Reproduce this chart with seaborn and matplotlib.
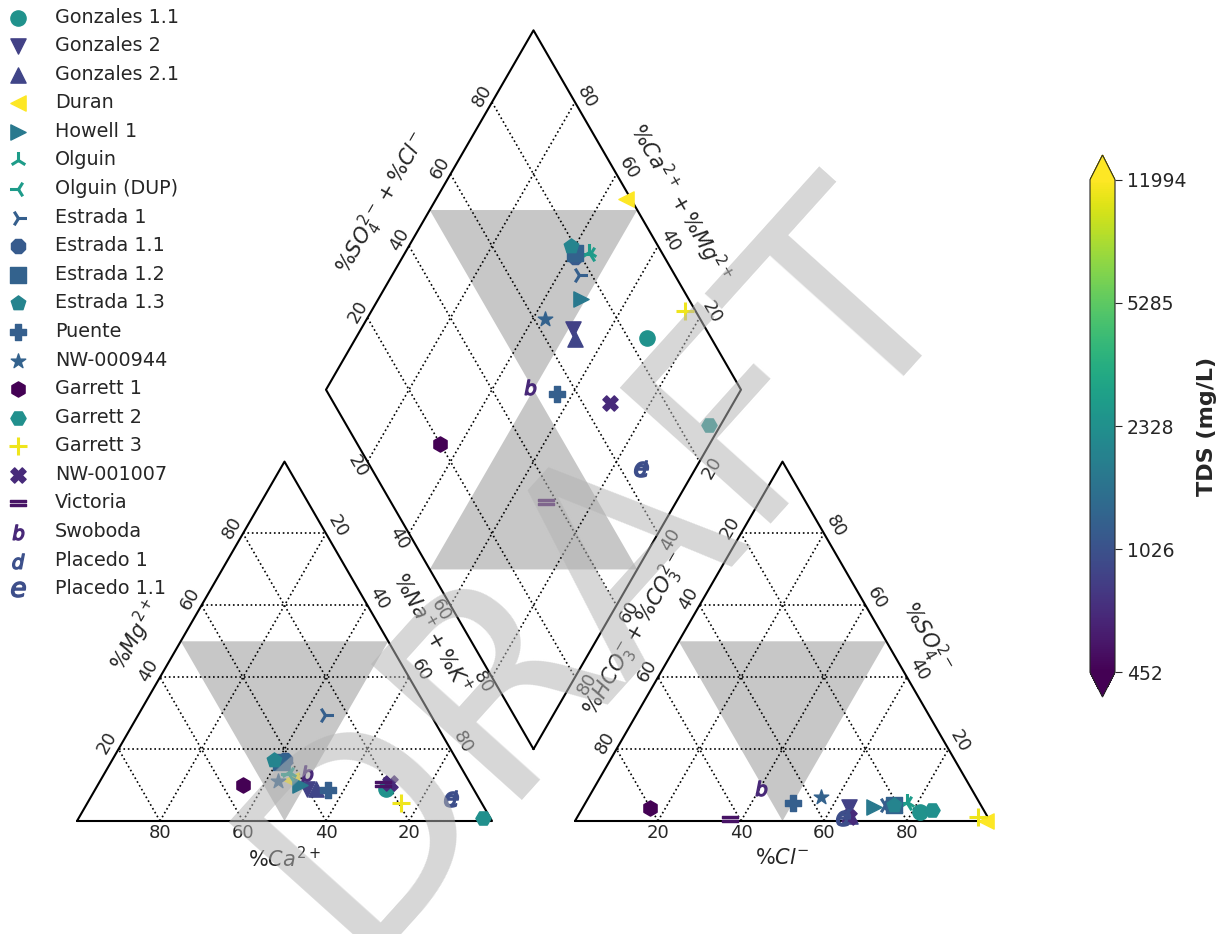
import numpy as np
import matplotlib
matplotlib.use("Agg")
import matplotlib.pyplot as plt
from matplotlib.colors import LogNorm
from matplotlib.cm import ScalarMappable
from matplotlib.patches import Polygon
from matplotlib.ticker import NullLocator
import seaborn as sns

sns.set_style("white")
plt.rcParams["font.family"] = ["DejaVu Sans"]

# ---- sample data (meq %) ----
samples = ["Gonzales 1.1", "Gonzales 2", "Gonzales 2.1", "Duran", "Howell 1",
           "Olguin", "Olguin (DUP)", "Estrada 1", "Estrada 1.1", "Estrada 1.2",
           "Estrada 1.3", "Puente", "NW-000944", "Garrett 1", "Garrett 2",
           "Garrett 3", "NW-001007", "Victoria", "Swoboda", "Placedo 1", "Placedo 1.1"]
markers = ["o", "v", "^", "<", ">", "2", "3", "4", "8", "s", "p", "P", "*",
           "h", "H", "+", "X", "$=$", "$b$", "$d$", "$e$"]
tds = [2400, 850, 880, 11994, 1700, 2750, 2700, 1200, 1150, 1250, 1976,
       1200, 1250, 452, 2328, 11000, 670, 530, 650, 1000, 980]
ca = [21.0, 40.0, 38.0, 42.8, 41.2, 42.2, 42.2, 25.5, 41.5, 42.5, 44.0,
      35.2, 45.9, 55.1, 1.8, 19.4, 19.2, 21.0, 37.9, 6.8, 6.8]
mg = [9.0, 9.0, 9.0, 11.4, 10.0, 13.6, 13.2, 29.5, 17.0, 16.5, 17.0,
      8.6, 11.1, 10.0, 0.9, 5.0, 10.6, 10.3, 13.4, 6.4, 6.2]
nak = [70.0, 51.0, 53.0, 45.8, 48.8, 44.2, 44.6, 45.0, 41.5, 41.0, 39.0,
       56.2, 43.0, 34.9, 97.3, 75.6, 70.2, 68.7, 48.7, 86.8, 87.0]
hco3 = [15.5, 32.0, 33.0, 1.0, 26.0, 17.4, 17.5, 23.0, 21.5, 21.0, 21.0,
        44.9, 37.4, 80.1, 12.5, 2.5, 33.5, 62.5, 50.6, 35.0, 35.0]
cl = [82.0, 64.0, 65.5, 99.0, 70.0, 77.2, 77.5, 72.5, 74.0, 74.5, 74.5,
      50.0, 55.8, 16.4, 84.5, 96.5, 65.5, 37.0, 40.3, 64.0, 64.2]
so4 = [2.5, 4.0, 1.5, 0.0, 4.0, 5.4, 5.0, 4.5, 4.5, 4.5, 4.5,
       5.1, 6.8, 3.5, 3.0, 1.0, 1.0, 0.5, 9.1, 1.0, 0.8]

tick_vals = [20, 40, 60, 80]
cbar_ticks = [452, 1026, 2328, 5285, 11994]

# ---- geometry ----
h = np.sqrt(3) / 2
off = 0.2  # gap between the two triangles


def diamond_pt(n, a):
    """Point in the diamond for cation (Na+K) fraction n and anion (Cl+SO4) fraction a."""
    return 0.6 + (n + a) / 2, h * (1.2 + a - n)


W, H = 1228, 934
fig = plt.figure(figsize=(W / 100, H / 100), dpi=100)
scale = 415.0
x_min, x_max = -0.15, 2.3
y_min, y_max = -0.2, 1.95
left_px = 77 - (0 - x_min) * scale
bottom_px_from_top = 821 + (0 - y_min) * scale
ax = fig.add_axes([left_px / W, (H - bottom_px_from_top) / H,
                   (x_max - x_min) * scale / W, (y_max - y_min) * scale / H])
ax.set_xlim(x_min, x_max)
ax.set_ylim(y_min, y_max)
ax.axis("off")

grid_kw = dict(color="k", ls=":", lw=1.2, zorder=1)
edge_kw = dict(color="k", lw=1.5, zorder=2)
shade = (0.78, 0.78, 0.78)

# triangles
for x0 in (0.0, 1.0 + off):
    ax.plot([x0, x0 + 1, x0 + 0.5, x0], [0, 0, h, 0], **edge_kw)
    for v in tick_vals:
        t = v / 100
        ax.plot([x0 + t / 2, x0 + 1 - t / 2], [t * h, t * h], **grid_kw)
        ax.plot([x0 + t, x0 + t + (1 - t) / 2], [0, (1 - t) * h], **grid_kw)
        ax.plot([x0 + t, x0 + t / 2], [0, t * h], **grid_kw)
    ax.add_patch(Polygon([(x0 + 0.25, h / 2), (x0 + 0.75, h / 2), (x0 + 0.5, 0)],
                         closed=True, fc=shade, ec="none", zorder=0))

# diamond
corners = [diamond_pt(1, 0), diamond_pt(0, 0), diamond_pt(0, 1), diamond_pt(1, 1), diamond_pt(1, 0)]
ax.plot([c[0] for c in corners], [c[1] for c in corners], **edge_kw)
for v in tick_vals:
    t = v / 100
    p0, p1 = diamond_pt(t, 0), diamond_pt(t, 1)
    ax.plot([p0[0], p1[0]], [p0[1], p1[1]], **grid_kw)
    p0, p1 = diamond_pt(0, t), diamond_pt(1, t)
    ax.plot([p0[0], p1[0]], [p0[1], p1[1]], **grid_kw)
center = diamond_pt(0.5, 0.5)
ax.add_patch(Polygon([diamond_pt(0, 0.5), diamond_pt(0.5, 1), center],
                     closed=True, fc=shade, ec="none", zorder=0))
ax.add_patch(Polygon([diamond_pt(0.5, 0), diamond_pt(1, 0.5), center],
                     closed=True, fc=shade, ec="none", zorder=0))

# tick labels
tk = dict(fontsize=13, ha="center", va="center")
for v in tick_vals:
    t = v / 100
    # cation triangle
    ax.text(1 - t, -0.03, str(v), **tk)
    ax.text(t / 2 - 0.027, t * h + 0.015, str(v), rotation=60, **tk)
    m = 1 - t
    ax.text(1 - m / 2 + 0.029, m * h + 0.016, str(v), rotation=-60, **tk)
    # anion triangle
    ax.text(1 + off + t, -0.03, str(v), **tk)
    s = 1 - t
    ax.text(1 + off + s / 2 - 0.027, s * h + 0.015, str(v), rotation=60, **tk)
    ax.text(2 + off - t / 2 + 0.028, t * h + 0.018, str(v), rotation=-60, **tk)
    # diamond
    px, py = diamond_pt(0, t)
    ax.text(px - 0.024, py + 0.015, str(v), rotation=60, **tk)
    px, py = diamond_pt(1 - t, 1)
    ax.text(px + 0.029, py + 0.013, str(v), rotation=-60, **tk)
    px, py = diamond_pt(t, 0)
    ax.text(px - 0.023, py - 0.012, str(v), rotation=-60, **tk)
    px, py = diamond_pt(1, 1 - t)
    ax.text(px + 0.03, py - 0.015, str(v), rotation=60, **tk)

# axis titles
tt = dict(fontsize=15, ha="center", va="center")
ax.text(0.5, -0.09, r"$\%Ca^{2+}$", **tt)
ax.text(0.14, 0.448, r"$\%Mg^{2+}$", rotation=60, **tt)
ax.text(0.855, 0.453, r"$\%Na^{+}+\%K^{+}$", rotation=-60, **tt)
ax.text(1.7, -0.09, r"$\%Cl^{-}$", **tt)
ax.text(2.048, 0.443, r"$\%SO_4^{2-}$", rotation=-60, **tt)
ax.text(1.345, 0.448, r"$\%HCO_3^{-}+\%CO_3^{2-}$", rotation=60, **tt)
ax.text(0.735, 1.488, r"$\%SO_4^{2-}+\%Cl^{-}$", rotation=60, **tt)
ax.text(1.453, 1.489, r"$\%Ca^{2+}+\%Mg^{2+}$", rotation=-60, **tt)

# ---- samples ----
norm = LogNorm(vmin=min(cbar_ticks), vmax=max(cbar_ticks))
cmap = plt.get_cmap("viridis")
line_art = {"2", "3", "4", "+"}
for i, name in enumerate(samples):
    tot_c = ca[i] + mg[i] + nak[i]
    tot_a = hco3[i] + cl[i] + so4[i]
    f_mg, f_na = mg[i] / tot_c, nak[i] / tot_c
    f_cl, f_so4 = cl[i] / tot_a, so4[i] / tot_a
    cx, cy = f_na + f_mg / 2, h * f_mg
    axx, ayy = 1 + off + f_cl + f_so4 / 2, h * f_so4
    dx, dy = diamond_pt(f_na, f_cl + f_so4)
    col = cmap(norm(tds[i]))
    mk = markers[i]
    lw = 2.2 if mk in line_art else 1.0
    size = 150 if mk in line_art else 120
    sns.scatterplot(x=[cx, axx, dx], y=[cy, ayy, dy], marker=mk, s=size,
                    color=col, edgecolor=col, linewidth=lw, ax=ax,
                    label=name, zorder=3)

ax.set_xlabel("")
ax.set_ylabel("")
leg = ax.legend(loc="upper left", bbox_to_anchor=(0.0, 0.996), bbox_transform=fig.transFigure,
                frameon=False, fontsize=13.8, labelspacing=0.5, handletextpad=1.15,
                borderaxespad=0.0, borderpad=0.2, handlelength=1.5, scatterpoints=1)

# ---- colorbar ----
cax = fig.add_axes([1090 / W, (H - 697) / H, 25 / W, 542 / H])
sm = ScalarMappable(norm=norm, cmap=cmap)
cb = fig.colorbar(sm, cax=cax, extend="both", ticks=cbar_ticks)
cb.ax.yaxis.set_minor_locator(NullLocator())
cb.ax.set_yticklabels([str(v) for v in cbar_ticks])
cb.ax.tick_params(labelsize=13.5, length=5)
cb.set_label("TDS (mg/L)", fontsize=16, fontweight="bold", labelpad=8)

# ---- watermark ----
fig.text(600 / W, 1 - 568 / H, "DRAFT", fontsize=200, rotation=48, color=(0.7, 0.7, 0.7),
         alpha=0.53, ha="center", va="center", zorder=10)

fig.savefig("out.png", dpi=100)
